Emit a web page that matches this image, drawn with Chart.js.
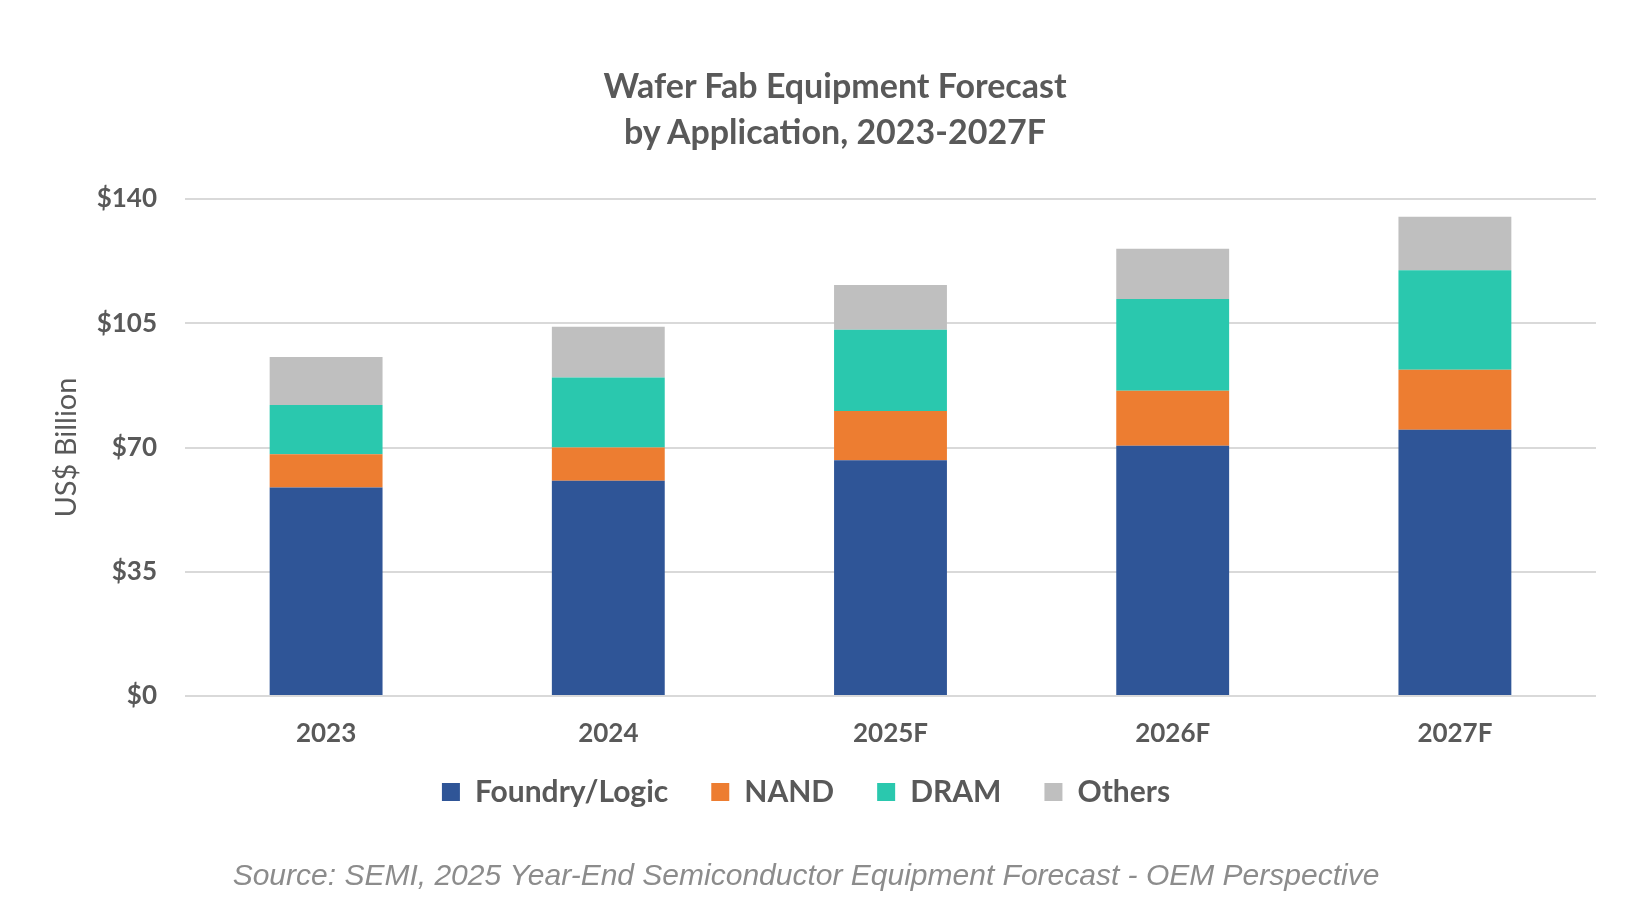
<!DOCTYPE html>
<html>
<head>
<meta charset="utf-8">
<script src="https://cdn.jsdelivr.net/npm/chart.js@4.4.1/dist/chart.umd.min.js"></script>
<style>
  html, body { margin: 0; padding: 0; background: #ffffff; overflow: hidden; }
  #wrap { width: 1648px; height: 908px; position: relative; }
  #title {
    position: absolute; left: 27px; top: 62px; width: 1616px;
    text-align: center; color: #595959;
    font: bold 34px/46px Lato, 'Open Sans', sans-serif;
  }
</style>
</head>
<body>
<div id="wrap">
  <canvas id="wfe"></canvas>
  <div id="title">Wafer Fab Equipment Forecast<br>by Application, 2023-2027F</div>
</div>
<script>
// Wafer fab equipment by application, US$ billion
const years = ["2023", "2024", "2025F", "2026F", "2027F"]
const foundryLogic = [58.7, 60.6, 66.4, 70.5, 75.0]
const nand = [9.4, 9.4, 13.9, 15.5, 16.9]
const dram = [13.9, 19.7, 22.9, 25.8, 28.0]
const others = [13.5, 14.3, 12.6, 14.2, 15.1]
const yTicks = [0, 35, 70, 105, 140]

const GREY = "#595959"
const FONT = "Lato, 'Open Sans', sans-serif"

const series = [
  { label: "Foundry/Logic", data: foundryLogic, color: "#2F5597" },
  { label: "NAND", data: nand, color: "#ED7D31" },
  { label: "DRAM", data: dram, color: "#2AC8AE" },
  { label: "Others", data: others, color: "#BFBFBF" },
]

// legend sits closer to the axis labels than its item spacing would allow
const legendLift = {
  id: "legendLift",
  afterLayout(chart) {
    const lg = chart.legend
    if (!lg) return
    lg.top -= 18
    lg.bottom -= 18
  },
}

new Chart(document.getElementById("wfe"), {
  type: "bar",
  data: {
    labels: years,
    datasets: series.map(s => ({
      label: s.label,
      data: s.data,
      backgroundColor: s.color,
      borderWidth: 0,
      barPercentage: 0.8,
      categoryPercentage: 0.5,
    })),
  },
  plugins: [legendLift],
  options: {
    responsive: true,
    maintainAspectRatio: false,
    devicePixelRatio: 1,
    animation: false,
    layout: { padding: { left: 16, right: 52, top: 199, bottom: 0 } },
    plugins: {
      title: { display: false },
      subtitle: {
        display: true,
        position: "bottom",
        text: "Source: SEMI, 2025 Year-End Semiconductor Equipment Forecast - OEM Perspective",
        color: "#8C8C8C",
        font: { family: "'Liberation Sans', Arial, sans-serif", size: 30, style: "italic" },
        padding: { top: 24, bottom: 13 },
      },
      legend: {
        position: "bottom",
        labels: {
          color: GREY,
          boxWidth: 18,
          boxHeight: 18,
          padding: 43,
          font: { family: FONT, size: 30, weight: "bold" },
        },
      },
      tooltip: { enabled: false },
    },
    scales: {
      x: {
        stacked: true,
        grid: { display: false, drawTicks: false },
        border: { display: false },
        afterFit: axis => { axis.height = 56 },
        ticks: {
          color: GREY,
          padding: 22,
          font: { family: FONT, size: 26, weight: "bold" },
        },
      },
      y: {
        stacked: true,
        min: 0,
        max: 140,
        afterBuildTicks: axis => { axis.ticks = yTicks.map(v => ({ value: v })) },
        afterFit: axis => { axis.width = 169 },
        grid: { color: "#D9D9D9", lineWidth: 2, drawTicks: false },
        border: { display: false },
        ticks: {
          color: GREY,
          padding: 28,
          font: { family: FONT, size: 26, weight: "bold" },
          callback: v => "$" + v,
        },
        title: {
          display: true,
          text: "US$ Billion",
          color: GREY,
          font: { family: FONT, size: 29 },
          padding: { top: 33, bottom: 0 },
        },
      },
    },
  },
})
</script>
</body>
</html>
